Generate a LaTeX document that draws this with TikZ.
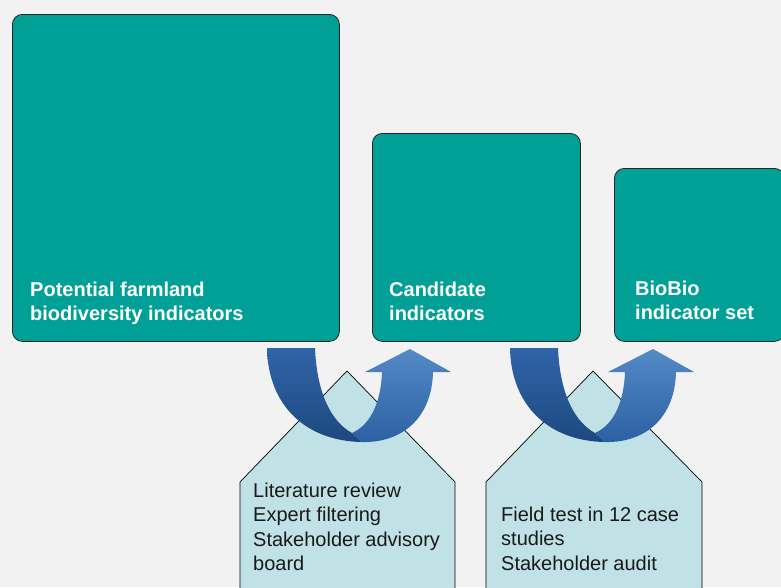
\documentclass[tikz,border=0pt]{standalone}
\usepackage{fontspec}
\setmainfont{Liberation Sans}
\definecolor{bggray}{HTML}{F2F2F2}
\definecolor{biogreen}{HTML}{00A096}
\definecolor{tagfill}{HTML}{C0E2E6}
\definecolor{bandtop}{HTML}{3064A8}
\definecolor{bandbot}{HTML}{1E497F}
\definecolor{headtop}{HTML}{548AC7}
\definecolor{headbot}{HTML}{2C60A3}

\begin{document}
\begin{tikzpicture}[x=1pt,y=-1pt,
    stage/.style={draw=black!85,line width=.8pt,fill=biogreen,rounded corners=10pt,inner sep=0pt,anchor=north west},
    stagetext/.style={text=white,font=\bfseries\fontsize{20}{24}\selectfont,align=left,inner sep=0pt,anchor=base west},
    tag/.style={draw=black,line width=.7pt,fill=tagfill},
    tagtext/.style={text=black!90,font=\fontsize{20}{24.5}\selectfont,align=left,inner sep=0pt,anchor=base west}]
    \useasboundingbox (0,0) rectangle (781,587);
    \fill[bggray] (0,0) rectangle (781,587);
    \clip (0,0) rectangle (781,587);
    % the three stages
    \node[stage,minimum width=327pt,minimum height=327pt] (pot) at (12,14) {};
    \node[stage,minimum width=208pt,minimum height=208pt] (cand) at (372,133) {};
    \node[stage,minimum width=170pt,minimum height=173pt] (set) at (614,168) {};
    \node[stagetext] (pottext) at ([shift={(18,-21)}]pot.south west) {Potential farmland\\biodiversity indicators};
    \node[stagetext] (candtext) at ([shift={(17,-21)}]cand.south west) {Candidate\\indicators};
    \node[stagetext] (settext) at ([shift={(21,-22)}]set.south west) {BioBio\\indicator set};
    % selection steps
    \draw[tag] (240,600) -- (240,482) -- (347,371) -- (455,482) -- (455,600);
    \draw[tag] (486,600) -- (486,482) -- (593,371) -- (702,482) -- (702,600);
    \node[tagtext] (reviewtext) at (253,570.5) {Literature review\\Expert filtering\\Stakeholder advisory\\board};
    \node[tagtext] (fieldtext) at (501,570) {Field test in 12 case\\studies\\Stakeholder audit};
    % u-turn arrows
    \foreach \s in {0,243}{
    \begin{scope}[xshift=\s pt]
      \shade[top color=bandtop,bottom color=bandbot] (267,348) -- (315,348)
        .. controls (317,395) and (332,422) .. (352,433) -- (362,442)
        .. controls (305,441) and (268,405) .. (267,348) -- cycle;
      \shade[top color=headtop,bottom color=headbot] (352,433)
        .. controls (372,424) and (381,400) .. (382,372) -- (365,372) -- (410,349)
        -- (451,372) -- (433,372) .. controls (432,418) and (402,443) .. (362,442) -- cycle;
    \end{scope}}
  \end{tikzpicture}
\end{document}
